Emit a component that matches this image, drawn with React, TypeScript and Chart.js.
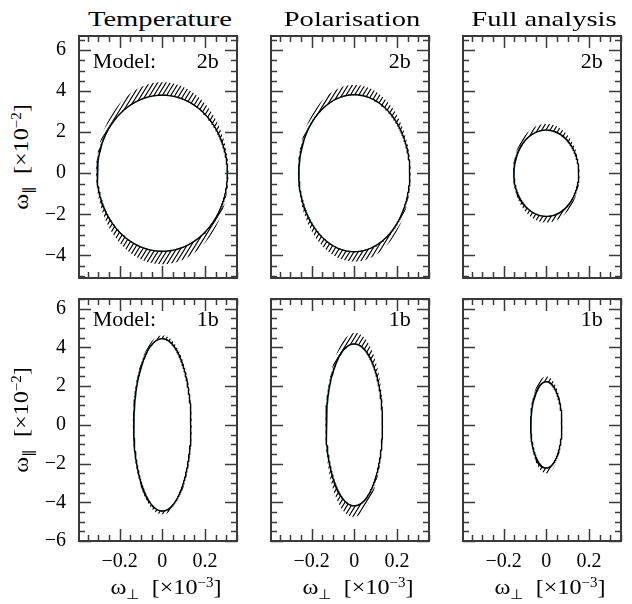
import React, { useEffect, useRef } from 'react';
import { Chart, registerables } from 'chart.js';

Chart.register(...registerables);

// ---------- data ----------
const COLUMN_TITLES = ['Temperature', 'Polarisation', 'Full analysis'];
const ROW_MODELS = ['2b', '1b'];
const X_TICKS = [-0.2, 0, 0.2];
const Y_TICKS_TOP = [-4, -2, 0, 2, 4, 6];
const Y_TICKS_BOTTOM = [-6, -4, -2, 0, 2, 4, 6];
const X_RANGE = [-0.39, 0.35];
const Y_RANGE_TOP = [-5.1, 6.68];
const Y_RANGE_BOTTOM = [-6, 6.5];

// ellipse sizes per panel, order: T-2b, P-2b, F-2b, T-1b, P-1b, F-1b
const INNER_SIGMA_PERP = [0.305, 0.26, 0.152, 0.134, 0.132, 0.073];
const INNER_SIGMA_PAR = [3.8, 3.82, 2.1, 4.45, 4.18, 2.23];
const OUTER_SIGMA_PERP = [0.31, 0.264, 0.156, 0.138, 0.135, 0.075];
const OUTER_SIGMA_PAR = [4.43, 4.3, 2.4, 4.62, 4.75, 2.5];
const OUTER_CORR = [0.0, 0.0, 0.0, 0.0, 0.03, 0.0];

// ---------- layout ----------
const COL_LEFT = [79, 271, 463];
const ROW_TOP = [36, 299];
const PANEL_W = 158;
const PANEL_H = 242;
const AX_W = 40;
const AX_H = 30;
const PAD = 4;

const SERIF = "'Liberation Serif', 'Times New Roman', serif";

function ellipse(sx: number, sy: number, rho: number) {
  const pts: { x: number; y: number }[] = [];
  const n = 360;
  const s = Math.sqrt(1 - rho * rho);
  for (let i = 0; i <= n; i++) {
    const t = (i / n) * Math.PI * 2;
    pts.push({ x: sx * Math.cos(t), y: sy * (rho * Math.cos(t) + s * Math.sin(t)) });
  }
  return pts;
}

function fmt(v: number) {
  if (Math.abs(v) < 1e-9) return '0';
  const s = String(Math.abs(Math.round(v * 100) / 100));
  return (v < 0 ? '\u2212' : '') + s;
}

function tracePath(ctx: CanvasRenderingContext2D, pts: any[]) {
  pts.forEach((p: any, i: number) => (i ? ctx.lineTo(p.x, p.y) : ctx.moveTo(p.x, p.y)));
  ctx.closePath();
}

function makeDecorPlugin(col: number, row: number) {
  return {
    id: 'decor',
    beforeDatasetsDraw(chart: any) {
      const { ctx, chartArea: ca } = chart;
      const outer = chart.getDatasetMeta(0).data;
      const inner = chart.getDatasetMeta(1).data;
      ctx.save();
      ctx.beginPath();
      ctx.rect(ca.left, ca.top, ca.width, ca.height);
      ctx.clip();
      ctx.beginPath();
      tracePath(ctx, outer);
      ctx.clip();
      ctx.beginPath();
      ctx.rect(ca.left, ca.top, ca.width, ca.height);
      tracePath(ctx, inner);
      ctx.clip('evenodd');
      ctx.strokeStyle = '#000';
      ctx.lineWidth = 1.15;
      ctx.beginPath();
      const k = 0.62;
      for (let x0 = ca.left - ca.height * k - 10; x0 < ca.right + 10; x0 += 4.2) {
        ctx.moveTo(x0, ca.bottom);
        ctx.lineTo(x0 + ca.height * k, ca.top);
      }
      ctx.stroke();
      ctx.restore();
    },
    afterDraw(chart: any) {
      const { ctx, chartArea: ca, scales } = chart;
      const xs = scales.x;
      const ys = scales.y;
      ctx.save();
      ctx.strokeStyle = '#3a3a3a';
      ctx.lineWidth = 1.5;
      ctx.beginPath();
      const yMin = ys.min, yMax = ys.max;
      for (let v = Math.ceil(yMin / 0.5) * 0.5; v <= yMax + 1e-9; v += 0.5) {
        const major = Math.abs(v / 2 - Math.round(v / 2)) < 1e-6;
        const len = major ? 12 : 6;
        const py = Math.round(ys.getPixelForValue(v)) + 0.5;
        ctx.moveTo(ca.left, py);
        ctx.lineTo(ca.left + len, py);
        ctx.moveTo(ca.right, py);
        ctx.lineTo(ca.right - len, py);
      }
      const xMin = xs.min, xMax = xs.max;
      for (let v = Math.ceil(xMin / 0.05 - 1e-6) * 0.05; v <= xMax + 1e-9; v += 0.05) {
        const major = Math.abs(v / 0.2 - Math.round(v / 0.2)) < 1e-6;
        const len = major ? 12 : 6;
        const px = Math.round(xs.getPixelForValue(v)) + 0.5;
        ctx.moveTo(px, ca.bottom);
        ctx.lineTo(px, ca.bottom - len);
        ctx.moveTo(px, ca.top);
        ctx.lineTo(px, ca.top + len);
      }
      ctx.stroke();
      ctx.lineWidth = 2;
      ctx.strokeRect(ca.left, ca.top, ca.width, ca.height);

      ctx.fillStyle = '#000';
      ctx.font = `22px ${SERIF}`;
      ctx.textBaseline = 'alphabetic';
      const by = ys.getPixelForValue(5.12);
      if (col === 0) {
        ctx.textAlign = 'left';
        ctx.fillText('Model:', xs.getPixelForValue(-0.326), by);
      }
      ctx.textAlign = 'right';
      ctx.fillText(ROW_MODELS[row], xs.getPixelForValue(0.265), by);
      ctx.restore();
    },
  };
}

function Panel({ col, row }: { col: number; row: number }) {
  const ref = useRef<HTMLCanvasElement | null>(null);
  useEffect(() => {
    const idx = row * 3 + col;
    const yr = row === 0 ? Y_RANGE_TOP : Y_RANGE_BOTTOM;
    const yt = row === 0 ? Y_TICKS_TOP : Y_TICKS_BOTTOM;
    const tickFont = { family: SERIF, size: 20 };
    const chart = new Chart(ref.current as HTMLCanvasElement, {
      type: 'scatter',
      data: {
        datasets: [
          {
            data: ellipse(OUTER_SIGMA_PERP[idx], OUTER_SIGMA_PAR[idx], OUTER_CORR[idx]),
            showLine: false,
            pointRadius: 0,
            borderWidth: 0,
          },
          {
            data: ellipse(INNER_SIGMA_PERP[idx], INNER_SIGMA_PAR[idx], 0),
            showLine: true,
            pointRadius: 0,
            borderColor: '#000',
            borderWidth: 1.4,
            tension: 0,
            fill: false,
          },
          {
            data: ellipse(INNER_SIGMA_PERP[idx], INNER_SIGMA_PAR[idx], 0),
            showLine: true,
            pointRadius: 0,
            borderColor: '#2a8a8a',
            borderWidth: 0.9,
            tension: 0,
            fill: false,
          },
        ],
      } as any,
      options: {
        animation: false,
        responsive: false,
        maintainAspectRatio: false,
        devicePixelRatio: 1,
        events: [],
        layout: { padding: { top: PAD, right: PAD, left: 0, bottom: 0 } },
        plugins: { legend: { display: false }, tooltip: { enabled: false }, title: { display: false } },
        scales: {
          x: {
            type: 'linear',
            position: 'bottom',
            min: X_RANGE[0],
            max: X_RANGE[1],
            grid: { display: false, drawTicks: false },
            border: { display: false },
            ticks: { display: row === 1, font: tickFont, color: '#000', padding: 9, callback: (v: any) => fmt(Number(v)), maxRotation: 0 },
            afterBuildTicks: (s: any) => {
              s.ticks = X_TICKS.map((v) => ({ value: v }));
            },
            afterFit: (s: any) => {
              s.height = AX_H;
              s.paddingLeft = 0;
              s.paddingRight = 0;
            },
          },
          y: {
            type: 'linear',
            min: yr[0],
            max: yr[1],
            grid: { display: false, drawTicks: false },
            border: { display: false },
            ticks: { display: col === 0, font: tickFont, color: '#000', padding: 13, callback: (v: any) => fmt(Number(v)) },
            afterBuildTicks: (s: any) => {
              s.ticks = yt.map((v) => ({ value: v }));
            },
            afterFit: (s: any) => {
              s.width = AX_W;
              s.paddingTop = 0;
              s.paddingBottom = 0;
            },
          },
        },
      } as any,
      plugins: [makeDecorPlugin(col, row)],
    });
    return () => chart.destroy();
  }, [col, row]);
  const w = AX_W + PANEL_W + PAD;
  const h = PAD + PANEL_H + AX_H;
  return (
    <canvas
      ref={ref}
      width={w}
      height={h}
      style={{ position: 'absolute', left: COL_LEFT[col] - AX_W, top: ROW_TOP[row] - PAD, width: w, height: h }}
    />
  );
}

const sub = (t: string) => (
  <span style={{ fontSize: '0.62em', position: 'relative', top: '0.38em' }}>{t}</span>
);
const sup = (t: string) => (
  <span style={{ fontSize: '0.62em', position: 'relative', top: '-0.55em' }}>{t}</span>
);

export default function App() {
  const panels = [];
  for (let r = 0; r < 2; r++) for (let c = 0; c < 3; c++) panels.push(<Panel key={`${r}-${c}`} col={c} row={r} />);
  const zeroX = (c: number) => COL_LEFT[c] + ((0 - X_RANGE[0]) / (X_RANGE[1] - X_RANGE[0])) * PANEL_W;
  return (
    <div style={{ position: 'absolute', left: 0, top: 0, width: 632, height: 604, background: '#fff', overflow: 'hidden', fontFamily: SERIF, color: '#000' }}>
      {panels}
      {COLUMN_TITLES.map((t, c) => (
        <div
          key={t}
          style={{
            position: 'absolute',
            left: COL_LEFT[c] + PANEL_W / 2 + 2,
            top: 19,
            transform: 'translate(-50%, -50%) scaleX(1.3)',
            fontSize: 22,
            lineHeight: '24px',
            whiteSpace: 'nowrap',
          }}
        >
          {t}
        </div>
      ))}
      {ROW_TOP.map((top, r) => (
        <div
          key={'yt' + r}
          style={{
            position: 'absolute',
            left: 22,
            top: top + PANEL_H / 2,
            transform: 'translate(-50%, -50%) rotate(-90deg) scaleX(1.1)',
            fontSize: 22,
            lineHeight: '24px',
            whiteSpace: 'nowrap',
          }}
        >
          ω
          {sub('∥')}&nbsp;&nbsp;[×10{sup('−2')}]
        </div>
      ))}
      {COL_LEFT.map((_, c) => (
        <div
          key={'xt' + c}
          style={{
            position: 'absolute',
            left: zeroX(c) + 4,
            top: 588,
            transform: 'translate(-50%, -50%) scaleX(1.1)',
            fontSize: 22,
            lineHeight: '24px',
            whiteSpace: 'nowrap',
          }}
        >
          ω
          {sub('⊥')}&nbsp;&nbsp;[×10{sup('−3')}]
        </div>
      ))}
    </div>
  );
}
